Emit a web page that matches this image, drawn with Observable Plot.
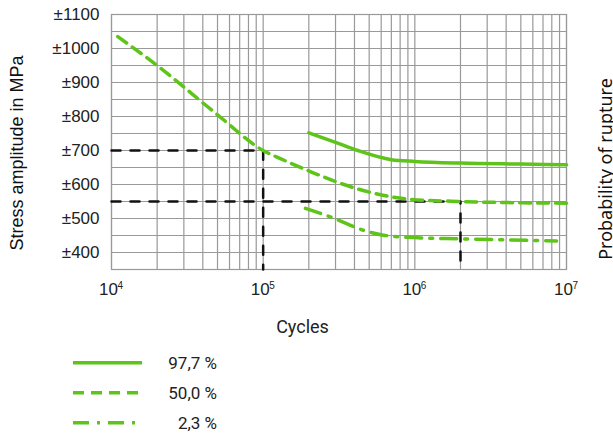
<!DOCTYPE html>
<html><head><meta charset="utf-8">
<script src="https://cdn.jsdelivr.net/npm/d3@7"></script>
<script src="https://cdn.jsdelivr.net/npm/@observablehq/plot@0.6"></script>
<style>
body{margin:0;background:#fff;}
#chart{position:relative;width:613px;height:436px;overflow:hidden;background:#fff}
#legend{position:absolute;left:0;top:345px}
</style>
</head><body><div id="chart"></div>
<script>
// Series: probability of rupture
const seriesLabels = ["97,7 %", "50,0 %", "2,3 %"];
const cycles977 = [2e5, 3e5, 4.2e5, 7e5, 1e6, 2e6, 5e6, 1e7];
const stress977 = [752, 724, 700, 673, 668, 663, 660, 658];
const cycles500 = [1.1e4, 2e4, 5e4, 1e5, 1.3e5, 2.1e5, 4.2e5, 9e5, 2e6, 1e7];
const stress500 = [1035, 950, 805, 700, 676, 636, 587, 557, 550, 545];
const cycles023 = [1.9e5, 2.8e5, 4.85e5, 6.2e5, 1.1e6, 2e6, 8.6e6];
const stress023 = [530, 504, 462, 451, 443, 440, 434];

// Reference (read-off) lines
const ref700Cycles = [1e4, 1e5, 1e5];
const ref700Stress = [700, 700, 350];
const ref550Cycles = [1e4, 2e6, 2e6];
const ref550Stress = [550, 550, 350];

// Ticks
const yTicks = [400, 500, 600, 700, 800, 900, 1000, 1100];
const xTicks = [1e4, 1e5, 1e6, 1e7];
const xTickExponents = ["4", "5", "6", "7"];
const decades = [1e4, 1e5, 1e6];
const minorMultipliers = [1, 2, 3, 4, 5, 6, 7, 8, 9];
const yGrid = d3.range(350, 1101, 50);
const xGrid = decades.flatMap(d => minorMultipliers.map(m => d * m)).concat([1e7]);

const green = "#5ec41a";
const dashes = [null, "11,7", "16,8,3,8"];

const seriesCycles = [cycles977, cycles500, cycles023];
const seriesStress = [stress977, stress500, stress023];
const rows = seriesLabels.flatMap((s, k) =>
  seriesCycles[k].map((c, i) => ({series: s, cycles: c, stress: seriesStress[k][i]})));
const refRows = [
  ...ref700Cycles.map((c, i) => ({ref: "700", cycles: c, stress: ref700Stress[i]})),
  ...ref550Cycles.map((c, i) => ({ref: "550", cycles: c, stress: ref550Stress[i]}))
];

const lineMarks = seriesLabels.map((s, k) =>
  Plot.line(rows.filter(r => r.series === s), {
    x: "cycles", y: "stress", stroke: green, strokeWidth: 3.5,
    strokeDasharray: dashes[k] || undefined, curve: "monotone-x"
  }));

const plot = Plot.plot({
  width: 613, height: 345,
  marginTop: 14, marginBottom: 76, marginLeft: 111, marginRight: 47,
  x: {type: "log", domain: [1e4, 1e7], axis: null},
  y: {domain: [350, 1100], axis: null},
  style: {fontFamily: "'Liberation Sans', Arial, sans-serif", fontSize: "17px", color: "#222", background: "#fff", overflow: "visible"},
  marks: [
    Plot.ruleX(xGrid, {x: d => d, stroke: "#999", strokeWidth: 1.2, strokeOpacity: 1}),
    Plot.ruleY(yGrid, {y: d => d, stroke: "#999", strokeWidth: 1.2, strokeOpacity: 1}),
    Plot.frame({stroke: "#999", strokeWidth: 1.2}),
    Plot.line(refRows, {x: "cycles", y: "stress", z: "ref", stroke: "#111", strokeWidth: 2.5, strokeDasharray: "9,10"}),
    ...lineMarks,
    Plot.text(yTicks, {y: d => d, frameAnchor: "left", text: d => "±" + d, textAnchor: "end", dx: -12, fontSize: 17, fill: "#222"}),
    Plot.text(xTicks, {x: d => d, frameAnchor: "bottom", text: () => "10", dx: -3, dy: 25, fontSize: 17, fill: "#222"}),
    Plot.text(xTicks, {x: d => d, frameAnchor: "bottom", text: d => xTickExponents[xTicks.indexOf(d)], textAnchor: "start", dx: 6, dy: 19, fontSize: 10, fill: "#222"}),
    Plot.text(["Cycles"], {frameAnchor: "bottom", textAnchor: "middle", dx: 302 - 338.5, dy: 63, fontSize: 18, fontFamily: "Roboto", fill: "#222"}),
    Plot.text(["Stress amplitude in MPa"], {frameAnchor: "left", textAnchor: "middle", dx: -94, dy: 11, rotate: -90, fontSize: 18, fill: "#111"}),
    Plot.text(["Probability of rupture"], {frameAnchor: "right", textAnchor: "middle", dx: 40, dy: 27, rotate: -90, fontSize: 18, fontFamily: "'Noto Sans'", fill: "#111"})
  ]
});
document.getElementById("chart").append(plot);

// Legend
const leg = d3.select("#chart").append("svg").attr("id", "legend").attr("width", 613).attr("height", 91);
seriesLabels.forEach((s, k) => {
  const y = 17.7 + k * 30;
  leg.append("line").attr("x1", 73).attr("x2", 142).attr("y1", y).attr("y2", y)
    .attr("stroke", green).attr("stroke-width", 3.5)
    .attr("stroke-dasharray", dashes[k]);
  leg.append("text").attr("x", 217).attr("y", y).attr("dy", "0.35em").attr("text-anchor", "end")
    .attr("font-family", "Roboto").attr("font-size", 17).attr("fill", "#222").text(s);
});
</script>
</body></html>
